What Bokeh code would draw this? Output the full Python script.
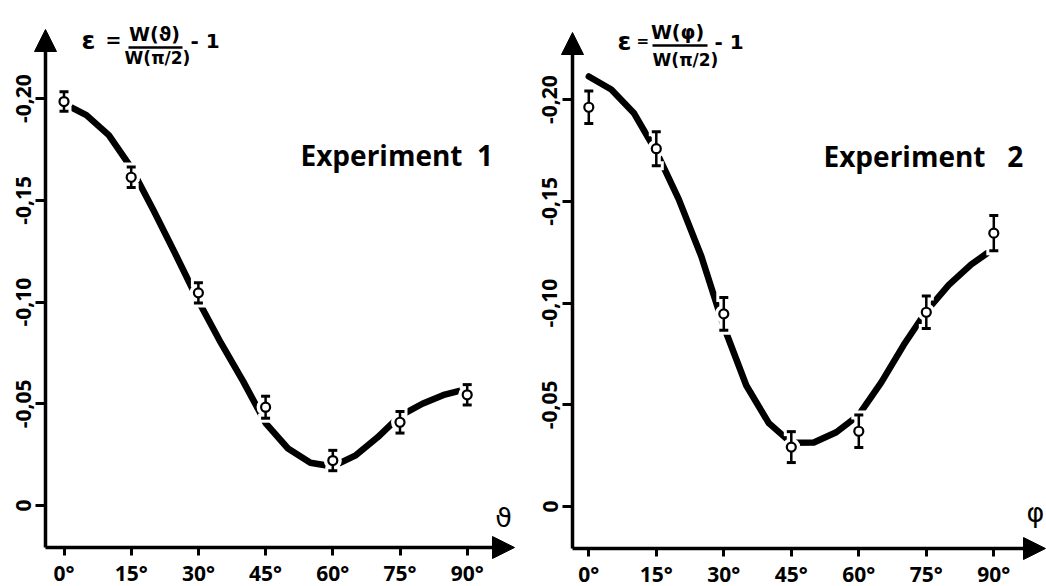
from bokeh.plotting import figure
from bokeh.layouts import row
from bokeh.models import (Range1d, FixedTicker, CustomJSTickFormatter, Label,
                          Arrow, NormalHead)
from bokeh.embed import file_html
from bokeh.resources import INLINE

# ---------------- data ----------------
angles = [0, 15, 30, 45, 60, 75, 90]

exp1_eps = [-0.1985, -0.1613, -0.1045, -0.0483, -0.0221, -0.0409, -0.0544]
exp1_err = [0.0048, 0.0050, 0.0050, 0.0054, 0.0050, 0.0053, 0.0050]

exp2_eps = [-0.1963, -0.1759, -0.0947, -0.0292, -0.0370, -0.0955, -0.1344]
exp2_err = [0.0080, 0.0084, 0.0080, 0.0076, 0.0080, 0.0080, 0.0087]

curve1_angle = [0, 5, 10, 15, 20, 25, 30, 35, 40, 45, 50, 55, 60, 65, 70, 75, 80, 85, 90]
curve1_eps = [-0.1975, -0.1918, -0.1820, -0.1660, -0.1450, -0.1230, -0.1005, -0.0800,
              -0.0610, -0.0405, -0.0280, -0.0210, -0.0192, -0.0245, -0.0335, -0.0440,
              -0.0500, -0.0545, -0.0573]

curve2_angle = [0, 5, 10, 15, 20, 25, 30, 35, 40, 45, 50, 55, 60, 65, 70, 75, 80, 85, 88.5]
curve2_eps = [-0.2114, -0.2050, -0.1935, -0.1745, -0.1510, -0.1230, -0.0885, -0.0595,
              -0.0410, -0.0313, -0.0315, -0.0365, -0.0450, -0.0610, -0.0795, -0.0960,
              -0.1090, -0.1190, -0.1245]

y_ticks = [-0.20, -0.15, -0.10, -0.05, 0.0]
x_ticks = angles

TICK_FONT = "Open Sans"
TXT_FONT = "DejaVu Sans"
H = 586


def make_panel(width, left, px, axis_x, axis_y, y_tip, x_tip,
               ang, eps, err, c_ang, c_eps,
               exp_text, exp_pos, num_text, formula, var_text, var_pos):
    # the frame covers the whole figure; px maps page pixels to data units
    xa, ya_top = px(left, 0)
    xb, ya_bot = px(left + width, H)
    p = figure(width=width, height=H, x_range=Range1d(xa, xb),
               y_range=Range1d(ya_bot, ya_top),
               output_backend="svg", toolbar_location=None, min_border=0)
    p.grid.visible = False
    p.outline_line_color = None

    ax0, ay0 = px(axis_x, axis_y)
    _, ay1 = px(axis_x, y_tip)
    ax1, _ = px(x_tip, axis_y)

    for ax in (p.xaxis[0], p.yaxis[0]):
        ax.axis_line_color = None
        ax.major_tick_in = 0
        ax.minor_tick_line_color = None
        ax.major_tick_line_width = 3
        ax.major_tick_line_color = "black"
        ax.major_label_text_font = TICK_FONT
        ax.major_label_text_font_style = "bold"
        ax.major_label_text_color = "black"
        ax.major_label_text_font_size = "21px"

    p.xaxis.fixed_location = ay0
    p.yaxis.fixed_location = ax0

    p.xaxis.ticker = FixedTicker(ticks=x_ticks)
    p.xaxis.formatter = CustomJSTickFormatter(code="return tick.toFixed(0) + '°';")
    p.xaxis.major_tick_out = 8
    p.xaxis.major_label_standoff = 3

    p.yaxis.ticker = FixedTicker(ticks=y_ticks)
    p.yaxis.formatter = CustomJSTickFormatter(
        code="return Math.abs(tick) < 1e-9 ? '0' : tick.toFixed(2).replace('.', ',');")
    p.yaxis.major_label_orientation = "vertical"
    p.yaxis.major_tick_out = 10
    p.yaxis.major_label_standoff = 5

    # axis lines with arrow heads
    p.add_layout(Arrow(x_start=ax0, y_start=ay0, x_end=ax1, y_end=ay0, line_width=3.5,
                       line_color="black",
                       end=NormalHead(size=22, fill_color="black", line_color="black")))
    p.add_layout(Arrow(x_start=ax0, y_start=ay0, x_end=ax0, y_end=ay1, line_width=3.5,
                       line_color="black",
                       end=NormalHead(size=22, fill_color="black", line_color="black")))

    lo = [e - d for e, d in zip(eps, err)]
    hi = [e + d for e, d in zip(eps, err)]

    # fitted curve
    p.line(c_ang, c_eps, line_width=6.5, line_color="black",
           line_cap="round", line_join="round")

    # white halo that breaks the curve around the symbols
    p.segment(x0=ang, y0=lo, x1=ang, y1=hi, line_width=9, line_color="white")
    p.scatter(ang, lo, marker="dash", size=15, line_width=9, line_color="white")
    p.scatter(ang, hi, marker="dash", size=15, line_width=9, line_color="white")
    p.scatter(ang, eps, marker="circle", size=10, line_width=8, line_color="white",
              fill_color="white")

    # error bars and open symbols
    p.segment(x0=ang, y0=lo, x1=ang, y1=hi, line_width=2.5, line_color="black")
    p.scatter(ang, lo, marker="dash", size=9, line_width=3, line_color="black")
    p.scatter(ang, hi, marker="dash", size=9, line_width=3, line_color="black")
    p.scatter(ang, eps, marker="circle", size=9, line_width=2.2, line_color="black",
              fill_color="white")

    # texts
    ex, ey = px(*exp_pos)
    p.add_layout(Label(x=ex, y=ey, text=exp_text, text_font=TICK_FONT,
                       text_font_style="bold", text_font_size="28px",
                       text_align="left", text_baseline="alphabetic",
                       text_color="black"))

    (eps_x, eps_y), (eq_x, eq_y, eq_s), (nx, ny), (bx0, bx1, by), (dx, dy), (mx, my) = formula
    lx, ly = px(eps_x, eps_y)
    p.add_layout(Label(x=lx, y=ly, text="ε", text_font=TXT_FONT, text_font_style="bold",
                       text_font_size="25px", text_align="left", text_baseline="alphabetic",
                       text_color="black"))
    lx, ly = px(eq_x, eq_y)
    p.add_layout(Label(x=lx, y=ly, text="=", text_font=TXT_FONT, text_font_style="bold",
                       text_font_size=eq_s, text_align="left", text_baseline="alphabetic",
                       text_color="black"))
    lx, ly = px(nx, ny)
    p.add_layout(Label(x=lx, y=ly, text=num_text, text_font=TXT_FONT, text_font_style="bold",
                       text_font_size="19px", text_align="center", text_baseline="alphabetic",
                       text_color="black"))
    a0, b0 = px(bx0, by)
    a1, _ = px(bx1, by)
    p.add_layout(Arrow(x_start=a0, y_start=b0, x_end=a1, y_end=b0, start=None, end=None,
                       line_width=2.5, line_color="black"))
    lx, ly = px(dx, dy)
    p.add_layout(Label(x=lx, y=ly, text="W(π/2)", text_font=TXT_FONT, text_font_style="bold",
                       text_font_size="17px", text_align="center", text_baseline="alphabetic",
                       text_color="black"))
    lx, ly = px(mx, my)
    p.add_layout(Label(x=lx, y=ly, text="- 1", text_font=TXT_FONT, text_font_style="bold",
                       text_font_size="20px", text_align="left", text_baseline="alphabetic",
                       text_color="black"))

    vx, vy = px(*var_pos)
    p.add_layout(Label(x=vx, y=vy, text=var_text, text_font=TXT_FONT,
                       text_font_size="27px", text_align="center", text_baseline="middle",
                       text_color="black"))
    return p


# page-pixel -> data helpers for placing the frame and annotations
def px1(x, y):
    return (x - 63.5) / 4.48, -(505 - y) / 2035


def px2(x, y):
    return (x - 588.3) / 4.5, -(506 - y) / 2034


p1 = make_panel(
    530, 0, px1, axis_x=45, axis_y=547, y_tip=29, x_tip=514,
    ang=angles, eps=exp1_eps, err=exp1_err, c_ang=curve1_angle, c_eps=curve1_eps,
    exp_text="Experiment\u00a0\u00a01", exp_pos=(300, 154),
    num_text="W(ϑ)",
    formula=((81, 40), (105, 39, "19px"), (154, 33), (128, 182, 47), (157, 57), (190, 40)),
    var_text="ϑ", var_pos=(503, 517))

p2 = make_panel(
    516, 530, px2, axis_x=572, axis_y=548, y_tip=32, x_tip=1045,
    ang=angles, eps=exp2_eps, err=exp2_err, c_ang=curve2_angle, c_eps=curve2_eps,
    exp_text="Experiment\u00a0\u00a0\u00a02", exp_pos=(823, 155),
    num_text="W(φ)",
    formula=((617, 41), (636, 40, "15px"), (677, 31), (652, 707, 45), (685, 59), (714, 41)),
    var_text="φ", var_pos=(1035, 512))

layout = row(p1, p2)
open("out.html", "w").write(file_html(layout, INLINE))
